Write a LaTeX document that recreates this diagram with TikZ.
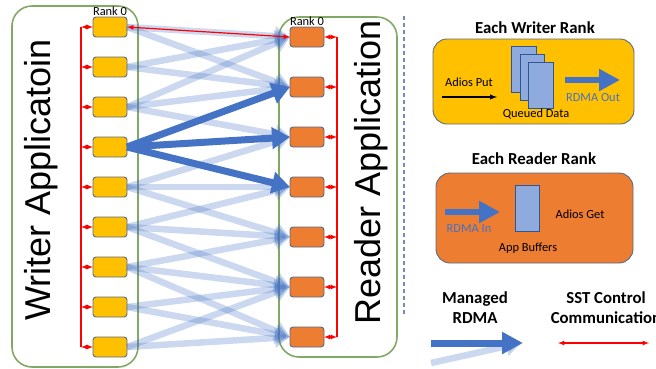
\documentclass[tikz,border=0pt]{standalone}
\usepackage{fontspec}
\setmainfont{Carlito}
\newfontfamily\bigfont{Liberation Sans}
\usetikzlibrary{positioning,arrows,arrows.meta}
\definecolor{rdmablue}{HTML}{4472C4}
\definecolor{bufblue}{HTML}{8FAADC}
\definecolor{bufedge}{HTML}{2F5597}
\definecolor{writergold}{HTML}{FFC000}
\definecolor{readerorange}{HTML}{ED7D31}
\definecolor{appgreen}{HTML}{82A866}
\definecolor{boxedge}{HTML}{5A6B85}
\definecolor{sepblue}{HTML}{6F8CC0}

\begin{document}
\begin{tikzpicture}[
      x=1pt,y=-1pt,
      node distance=20pt,
      every node/.style={inner sep=0pt,outer sep=0pt},
      appbox/.style={draw=appgreen,line width=1.6pt,rounded corners=20pt},
      writerbox/.style={draw=boxedge,line width=0.9pt,fill=writergold,rounded corners=3pt,minimum width=34pt,minimum height=20pt},
      readerbox/.style={writerbox,fill=readerorange},
      panel/.style={draw=boxedge,line width=0.9pt,rounded corners=14pt},
      buffer/.style={draw=bufedge,line width=1pt,fill=bufblue,minimum width=24.5pt,minimum height=46pt},
      smalltext/.style={font=\fontsize{12.4}{14}\selectfont},
      ranktext/.style={font=\fontsize{12.4}{14}\selectfont},
      titletext/.style={font=\fontsize{16.8}{20.5}\selectfont\bfseries,align=center},
      bigtext/.style={font=\fontsize{36}{40}\selectfont\bigfont,rotate=90,anchor=base},
      faint/.style={draw=rdmablue,line width=6.5pt,opacity=0.28,-{Triangle[length=15pt,width=19pt]}},
      strong/.style={draw=rdmablue,line width=7pt,-{Triangle[length=18pt,width=21pt]}},
      panelarrow/.style={draw=rdmablue,line width=6.5pt,-{Triangle[length=21pt,width=21pt]}},
      ctrl/.style={draw=red,line width=1.2pt,latex-latex},
      bus/.style={draw=red,line width=1.2pt}
    ]
        \useasboundingbox (0,0) rectangle (656,368);
        % applications
        \node[appbox,minimum width=126pt,minimum height=361pt] (writerapp) at (75,186.5) {};
        \node[appbox,minimum width=118pt,minimum height=340pt] (readerapp) at (338,187) {};
        \node[bigtext] (writerlabel) at (50,180) {Writer Applicatoin};
        \node[bigtext] (readerlabel) at (380,172) {Reader Application};
        % ranks
        \node[writerbox] (w1) at (110,27) {};
        \node[writerbox, below=of w1] (w2) {};
        \node[writerbox, below=of w2] (w3) {};
        \node[writerbox, below=of w3] (w4) {};
        \node[writerbox, below=of w4] (w5) {};
        \node[writerbox, below=of w5] (w6) {};
        \node[writerbox, below=of w6] (w7) {};
        \node[writerbox, below=of w7] (w8) {};
        \node[writerbox, below=of w8] (w9) {};
        \node[readerbox] (r1) at (307,37) {};
        \node[readerbox, below=30pt of r1] (r2) {};
        \node[readerbox, below=30pt of r2] (r3) {};
        \node[readerbox, below=30pt of r3] (r4) {};
        \node[readerbox, below=30pt of r4] (r5) {};
        \node[readerbox, below=30pt of r5] (r6) {};
        \node[readerbox, below=30pt of r6] (r7) {};
        \node[ranktext, above=1pt of w1] (wrank) {Rank 0};
        \node[ranktext, above=1pt of r1] (rrank) {Rank 0};
        % rdma
        \path (w1.east) edge[faint] (r1.west)
              (w1.east) edge[faint] (r2.west)
              (w2.east) edge[faint] (r1.west)
              (w2.east) edge[faint] (r2.west)
              (w3.east) edge[faint] (r1.west)
              (w3.east) edge[faint] (r2.west)
              (w3.east) edge[faint] (r3.west)
              (w5.east) edge[faint] (r3.west)
              (w5.east) edge[faint] (r4.west)
              (w5.east) edge[faint] (r5.west)
              (w6.east) edge[faint] (r4.west)
              (w6.east) edge[faint] (r5.west)
              (w6.east) edge[faint] (r6.west)
              (w7.east) edge[faint] (r5.west)
              (w7.east) edge[faint] (r6.west)
              (w7.east) edge[faint] (r7.west)
              (w8.east) edge[faint] (r6.west)
              (w8.east) edge[faint] (r7.west)
              (w9.east) edge[faint] (r6.west)
              (w9.east) edge[faint] (r7.west);
        \path (w4.east) edge[strong] (r2.west)
              (w4.east) edge[strong] (r3.west)
              (w4.east) edge[strong] (r4.west);
        % control
        \coordinate (wbus) at (81,0);
        \coordinate (rbus) at (337,0);
        \draw[bus] (w1.west -| wbus) -- (w9.west -| wbus);
        \draw[bus] (r1.east -| rbus) -- (r7.east -| rbus);
        \path (w1.west) edge[ctrl] (w1.west -| wbus)
              (w2.west) edge[ctrl] (w2.west -| wbus)
              (w3.west) edge[ctrl] (w3.west -| wbus)
              (w4.west) edge[ctrl] (w4.west -| wbus)
              (w5.west) edge[ctrl] (w5.west -| wbus)
              (w6.west) edge[ctrl] (w6.west -| wbus)
              (w7.west) edge[ctrl] (w7.west -| wbus)
              (w8.west) edge[ctrl] (w8.west -| wbus)
              (w9.west) edge[ctrl] (w9.west -| wbus)
              (r1.east) edge[ctrl] (r1.east -| rbus)
              (r2.east) edge[ctrl] (r2.east -| rbus)
              (r3.east) edge[ctrl] (r3.east -| rbus)
              (r4.east) edge[ctrl] (r4.east -| rbus)
              (r5.east) edge[ctrl] (r5.east -| rbus)
              (r6.east) edge[ctrl] (r6.east -| rbus)
              (r7.east) edge[ctrl] (r7.east -| rbus)
              (w1.east) edge[ctrl] (r1.west);
        % separator
        \coordinate (septop) at (404,16);
        \coordinate (sepbot) at (404,315);
        \draw[sepblue,line width=1.3pt,dash pattern=on 4pt off 3pt] (septop) -- (sepbot);
        % writer panel
        \node[titletext] (wtitle) at (535,28) {Each Writer Rank};
        \node[panel,fill=writergold,minimum width=201pt,minimum height=85pt] (wpanel) at (533.5,81.5) {};
        \node[buffer] (q1) at (524,69) {};
        \node[buffer, below right=-38pt and -16pt of q1] (q2) {};
        \node[buffer, below right=-38pt and -16pt of q2] (q3) {};
        \node[smalltext] (puttext) at (469,82) {Adios Put};
        \coordinate (putstart) at (442,97);
        \coordinate (putend) at (497,97);
        \draw[black,line width=1.4pt,-latex] (putstart) -- (putend);
        \node[smalltext] (queued) at (536,114) {Queued Data};
        \coordinate (outstart) at (565,80);
        \coordinate (outend) at (620,80);
        \draw[panelarrow] (outstart) -- (outend);
        \node[smalltext,text=rdmablue] (outtext) at (593,98) {RDMA Out};
        % reader panel
        \node[titletext] (rtitle) at (534,159) {Each Reader Rank};
        \node[panel,fill=readerorange,minimum width=197pt,minimum height=90pt] (rpanel) at (534.5,218) {};
        \node[buffer] (appbuf) at (527.5,208) {};
        \coordinate (instart) at (445,212);
        \coordinate (inend) at (500,212);
        \draw[panelarrow] (instart) -- (inend);
        \node[smalltext,text=rdmablue] (intext) at (469,229) {RDMA In};
        \node[smalltext] (gettext) at (580,214) {Adios Get};
        \node[smalltext] (apptext) at (528,248) {App Buffers};
        % legend
        \node[titletext] (rdmalegend) at (475,307.5) {Managed\\RDMA};
        \node[titletext] (ctrllegend) at (606,307.5) {SST Control\\Communication};
        \coordinate (fstart) at (431,363);
        \coordinate (fend) at (521,343);
        \coordinate (sstart) at (431,343);
        \coordinate (send) at (523,343);
        \coordinate (cstart) at (558,343);
        \coordinate (cend) at (649,343);
        \draw[faint] (fstart) -- (fend);
        \draw[strong,-{Triangle[length=21pt,width=21pt]}] (sstart) -- (send);
        \draw[ctrl] (cstart) -- (cend);
    \end{tikzpicture}
\end{document}
